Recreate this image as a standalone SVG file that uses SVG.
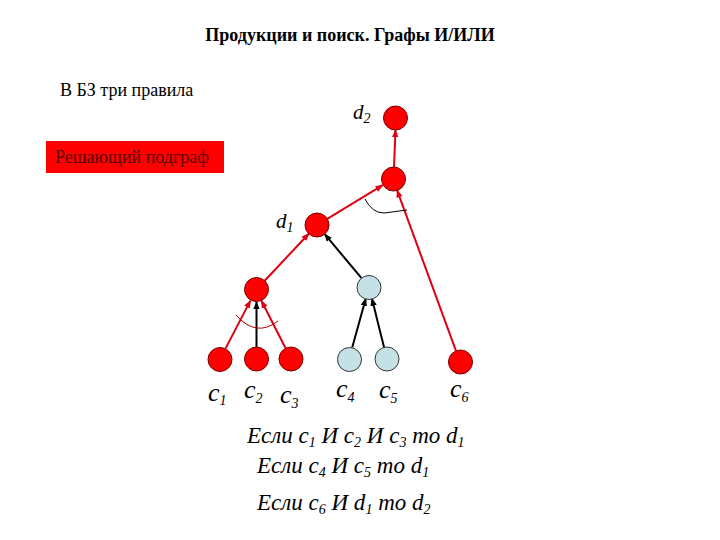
<svg xmlns="http://www.w3.org/2000/svg" width="720" height="540" viewBox="0 0 720 540">
<style>
.title{font-family:"Liberation Serif",serif;font-weight:bold;font-size:18px;fill:#000}
.txt{font-family:"Liberation Serif",serif;font-size:18px;fill:#000}
.lbl{font-family:"Liberation Serif",serif;font-style:italic;fill:#000}
.c{font-size:26px}
.d{font-size:21px}
.sub{font-size:14px}
.rule{font-family:"Liberation Serif",serif;font-style:italic;font-size:23px;fill:#000}
.rsub{font-size:14px}
.red{fill:#ff0000;stroke:#7a0000;stroke-width:1}
.blue{fill:#c4e2e6;stroke:#333;stroke-width:1}
.er{stroke:#e00010;stroke-width:2;fill:none}
.eb{stroke:#000;stroke-width:2;fill:none}
</style>
<defs>
<marker id="ar" viewBox="0 0 10 10" refX="9" refY="5" markerWidth="4" markerHeight="4" orient="auto" markerUnits="strokeWidth">
<path d="M0,1 L10,5 L0,9 z" fill="#e00010"/>
</marker>
<marker id="ab" viewBox="0 0 10 10" refX="9" refY="5" markerWidth="4" markerHeight="4" orient="auto" markerUnits="strokeWidth">
<path d="M0,1 L10,5 L0,9 z" fill="#000"/>
</marker>
</defs>
<rect width="720" height="540" fill="#fff"/>
<text class="title" x="350" y="41" text-anchor="middle">Продукции и поиск. Графы И/ИЛИ</text>
<text class="txt" x="60" y="96">В БЗ три правила</text>
<g id="legend">
<rect x="46" y="141" width="178" height="32" fill="#ff0000"/>
<text class="txt" x="55" y="163" style="fill:#5a0000">Решающий подграф</text>
</g>
<g id="connectors">
<line class="er" x1="327.3" y1="218.8" x2="382.7" y2="185.2" marker-end="url(#ar)"/>
<line class="er" x1="455.9" y1="350.7" x2="397.1" y2="190.3" marker-end="url(#ar)"/>
<line class="er" x1="394" y1="167" x2="395.5" y2="130" marker-end="url(#ar)"/>
<line class="er" x1="264.2" y1="281.3" x2="308.8" y2="233.7" marker-end="url(#ar)"/>
<line class="eb" x1="361.3" y1="277.8" x2="324.7" y2="234.2" marker-end="url(#ab)"/>
<line class="er" x1="225.6" y1="348.4" x2="250.4" y2="300.6" marker-end="url(#ar)"/>
<line class="eb" x1="256.5" y1="347" x2="256.5" y2="302" marker-end="url(#ab)"/>
<line class="er" x1="285.6" y1="348.3" x2="261.4" y2="300.7" marker-end="url(#ar)"/>
<line class="eb" x1="352.2" y1="347.4" x2="365.8" y2="298.6" marker-end="url(#ab)"/>
<line class="eb" x1="384.1" y1="347.4" x2="371.9" y2="298.6" marker-end="url(#ab)"/>
<path d="M365 199 Q372 213 384 213 L407 210" stroke="#000" stroke-width="1" fill="none"/>
<path d="M236 315 Q256 338 278 321" stroke="#b00000" stroke-width="1" fill="none"/>
</g>
<g id="d2"><circle class="red" cx="395.5" cy="118" r="12"/>
<text class="lbl d" x="353" y="119">d<tspan class="sub" dy="4">2</tspan></text></g>
<g id="and_top"><circle class="red" cx="393.5" cy="179" r="12"/></g>
<g id="d1"><circle class="red" cx="317" cy="225" r="12"/>
<text class="lbl d" x="276" y="228">d<tspan class="sub" dy="4">1</tspan></text></g>
<g id="and_left"><circle class="red" cx="256.5" cy="289.5" r="12"/></g>
<g id="or_blue"><circle class="blue" cx="369" cy="287.5" r="12"/></g>
<g id="c1"><circle class="red" cx="220" cy="359.5" r="12"/>
<text class="lbl c" x="208" y="401">c<tspan class="sub" dy="4">1</tspan></text></g>
<g id="c2"><circle class="red" cx="256.5" cy="359" r="12"/>
<text class="lbl c" x="244" y="398">c<tspan class="sub" dy="5">2</tspan></text></g>
<g id="c3"><circle class="red" cx="291" cy="359" r="12"/>
<text class="lbl c" x="280" y="403">c<tspan class="sub" dy="5">3</tspan></text></g>
<g id="c4"><circle class="blue" cx="349.5" cy="359.5" r="12"/>
<text class="lbl c" x="336" y="397">c<tspan class="sub" dy="5">4</tspan></text></g>
<g id="c5"><circle class="blue" cx="387" cy="359" r="12"/>
<text class="lbl c" x="379" y="398">c<tspan class="sub" dy="5">5</tspan></text></g>
<g id="c6"><circle class="red" cx="460.5" cy="362" r="12"/>
<text class="lbl c" x="450" y="397">c<tspan class="sub" dy="5">6</tspan></text></g>
<g id="rules">
<text class="rule" x="247" y="443">Если c<tspan class="rsub" dy="4">1</tspan><tspan dy="-4"> И c</tspan><tspan class="rsub" dy="4">2</tspan><tspan dy="-4"> И c</tspan><tspan class="rsub" dy="4">3</tspan><tspan dy="-4"> то d</tspan><tspan class="rsub" dy="4">1</tspan></text>
<text class="rule" x="257" y="473">Если c<tspan class="rsub" dy="4">4</tspan><tspan dy="-4"> И c</tspan><tspan class="rsub" dy="4">5</tspan><tspan dy="-4"> то d</tspan><tspan class="rsub" dy="4">1</tspan></text>
<text class="rule" x="257" y="510">Если c<tspan class="rsub" dy="4">6</tspan><tspan dy="-4"> И d</tspan><tspan class="rsub" dy="4">1</tspan><tspan dy="-4"> то d</tspan><tspan class="rsub" dy="4">2</tspan></text>
</g>
</svg>
